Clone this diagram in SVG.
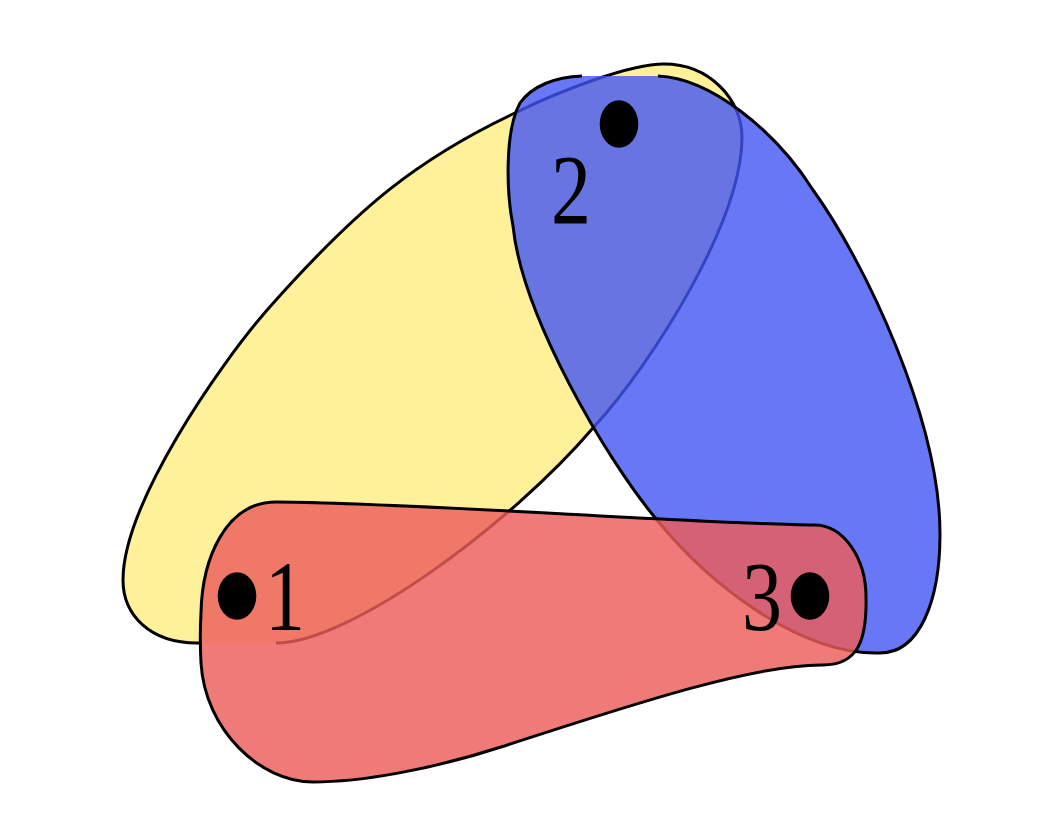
<svg xmlns="http://www.w3.org/2000/svg" width="1038" height="834" viewBox="0 0 1038 834">
<style>
.edge{stroke:#000;stroke-width:3;stroke-linejoin:round;stroke-linecap:butt}
.yellow{fill:#fff19a}
.blue{fill:rgb(66,85,242);fill-opacity:0.8}
.red{fill:rgb(237,93,90);fill-opacity:0.82}
.dot{fill:#000}
.lbl{font-family:"Liberation Serif","DejaVu Serif",serif;font-size:80px;fill:#000;text-anchor:middle}
</style>
<rect width="1038" height="834" fill="#fff"/>
<g id="hyperedge-yellow">
<path class="edge yellow" d="M 276,643 C 350,643 510,525 593,428 C 655,360 742,220 742,137 C 742,100 710,64 664,64 C 630,64 562,90 517,112 C 419,158 359,206 268,309 C 219,365 123,504 123,580 C 123,615 150,643 197,643 L 202,643"/>
</g>
<g id="hyperedge-blue">
<path class="edge blue" d="M 658,76 C 710,78 775,130 813,190 C 865,262 940,420 940,534 C 940,600 920,653 880,653 C 800,655 710,585 657,520 C 605,458 522,315 513,226 C 506,190 505,130 520,103 C 532,86 555,77 582,76"/>
</g>
<g id="hyperedge-red">
<path class="edge red" d="M 276,502 C 400,502 700,524 814,525 C 845,525 866,560 866,597 C 867,640 858,665 823,665 C 750,664 610,712 501,747 C 430,770 360,782 313,782 C 260,782 205,730 201,663 C 200,645 200,630 201,613 C 202,560 225,502 276,502 Z"/>
</g>
<g id="node-1">
<ellipse class="dot" cx="237" cy="596" rx="19.3" ry="23.8"/>
<text class="lbl" transform="translate(285,630) scale(1,1.24)">1</text>
</g>
<g id="node-2">
<ellipse class="dot" cx="619" cy="124" rx="19.3" ry="23.8"/>
<text class="lbl" transform="translate(571,223) scale(1,1.24)">2</text>
</g>
<g id="node-3">
<ellipse class="dot" cx="810" cy="596" rx="19.3" ry="23.8"/>
<text class="lbl" transform="translate(762,630) scale(1,1.24)">3</text>
</g>
</svg>
